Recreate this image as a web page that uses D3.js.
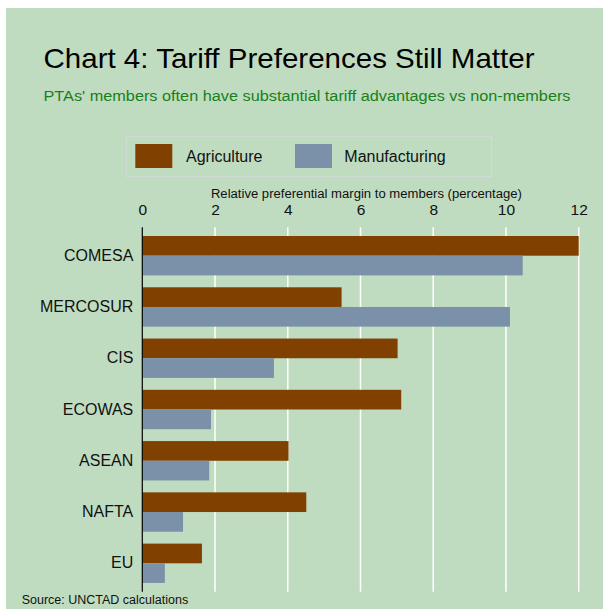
<!DOCTYPE html>
<html>
<head>
<meta charset="utf-8">
<script src="https://cdn.jsdelivr.net/npm/d3@7/dist/d3.min.js"></script>
<style>
  html, body { margin: 0; padding: 0; background: #ffffff; }
  svg { display: block; font-family: "Liberation Sans", Arial, sans-serif; }
</style>
</head>
<body>
<svg id="chart" width="603" height="609"></svg>
<script>
const categories = ["COMESA", "MERCOSUR", "CIS", "ECOWAS", "ASEAN", "NAFTA", "EU"];
const agriculture = [12.0, 5.48, 7.02, 7.12, 4.02, 4.51, 1.64];
const manufacturing = [10.46, 10.11, 3.62, 1.89, 1.84, 1.12, 0.62];
const seriesNames = ["Agriculture", "Manufacturing"];
const tickValues = [0, 2, 4, 6, 8, 10, 12];

const colors = { Agriculture: "#804000", Manufacturing: "#7a91a9" };

const svg = d3.select("#chart");

// panel background
svg.append("rect").attr("x", 6).attr("y", 8).attr("width", 597).attr("height", 601).attr("fill", "#c0dcc0");

// title & subtitle
svg.append("text").attr("x", 43.5).attr("y", 68.3)
  .attr("font-size", 28).attr("fill", "#000")
  .attr("textLength", 491).attr("lengthAdjust", "spacingAndGlyphs")
  .text("Chart 4: Tariff Preferences Still Matter");
svg.append("text").attr("x", 43.5).attr("y", 101)
  .attr("font-size", 15.4).attr("fill", "#17801a")
  .attr("textLength", 527).attr("lengthAdjust", "spacingAndGlyphs")
  .text("PTAs' members often have substantial tariff advantages vs non-members");

// legend
const legend = svg.append("g");
legend.append("rect").attr("x", 126.5).attr("y", 136.5).attr("width", 365).attr("height", 40)
  .attr("fill", "none").attr("stroke", "#cfdbd4").attr("stroke-width", 1);
const legendItems = [
  { name: seriesNames[0], sx: 135.3, tx: 186 },
  { name: seriesNames[1], sx: 295, tx: 344.3 }
];
legendItems.forEach(d => {
  legend.append("rect").attr("x", d.sx).attr("y", 144).attr("width", 37).attr("height", 24)
    .attr("fill", colors[d.name]);
  legend.append("text").attr("x", d.tx).attr("y", 162).attr("font-size", 16).attr("fill", "#111")
    .text(d.name);
});

// scales
const x = d3.scaleLinear().domain([0, 12]).range([142.3, 578.7]);
const yTop = 227.3, yBot = 591.7;
const y = d3.scaleBand().domain(categories).range([yTop, yBot]).paddingInner(0.232).paddingOuter(0.17);
const ySub = d3.scaleBand().domain(seriesNames).range([0, y.bandwidth()]);

// gridlines
svg.append("g").selectAll("line").data(tickValues.filter(v => v > 0)).join("line")
  .attr("x1", d => x(d)).attr("x2", d => x(d))
  .attr("y1", yTop).attr("y2", yBot)
  .attr("stroke", "#ffffff").attr("stroke-width", 1.5);

// axis on top (labels only)
const xAxis = d3.axisTop(x).tickValues(tickValues).tickSize(0).tickPadding(0).tickFormat(d3.format("d"));
const axG = svg.append("g").attr("transform", "translate(0,215)").call(xAxis);
axG.select(".domain").remove();
axG.selectAll("text").attr("font-size", 15.5).attr("fill", "#111")
  .attr("font-family", "Liberation Sans, Arial, sans-serif").attr("dy", 0);

// axis title
svg.append("text").attr("x", 366.4).attr("y", 198.3).attr("text-anchor", "middle")
  .attr("font-size", 12.5).attr("fill", "#111")
  .attr("textLength", 311).attr("lengthAdjust", "spacingAndGlyphs")
  .text("Relative preferential margin to members (percentage)");

// bars
const rows = categories.map((c, i) => ({ cat: c, Agriculture: agriculture[i], Manufacturing: manufacturing[i] }));
const barG = svg.append("g");
rows.forEach(r => {
  seriesNames.forEach(s => {
    barG.append("rect")
      .attr("x", x(0))
      .attr("y", y(r.cat) + ySub(s))
      .attr("width", x(r[s]) - x(0))
      .attr("height", ySub.bandwidth())
      .attr("fill", colors[s]);
  });
});

// category labels
const yAxis = d3.axisLeft(y).tickSize(0).tickPadding(9);
const yG = svg.append("g").attr("transform", `translate(${x(0)},0)`).call(yAxis);
yG.select(".domain").remove();
yG.selectAll("text").attr("font-size", 16).attr("fill", "#111")
  .attr("font-family", "Liberation Sans, Arial, sans-serif");

// zero axis line
svg.append("line").attr("x1", x(0)).attr("x2", x(0)).attr("y1", yTop).attr("y2", yBot)
  .attr("stroke", "#000").attr("stroke-width", 1.2);

// source
svg.append("text").attr("x", 21.7).attr("y", 604).attr("font-size", 12.5).attr("fill", "#111")
  .text("Source: UNCTAD calculations");
</script>
</body>
</html>
